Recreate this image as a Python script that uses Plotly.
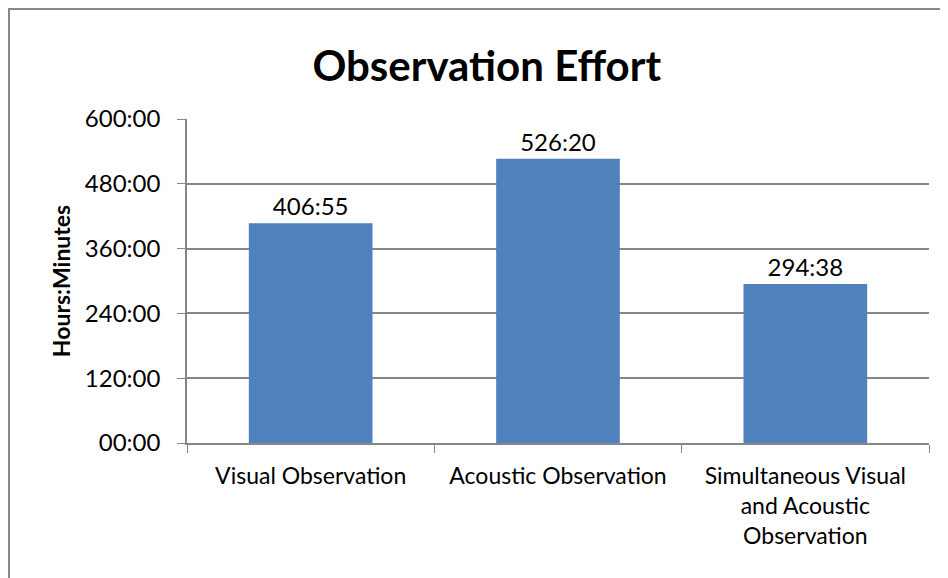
import plotly.graph_objects as go

categories = ["Visual Observation", "Acoustic Observation",
              "Simultaneous Visual<br>and Acoustic<br>Observation"]
hours = [406 + 55 / 60, 526 + 20 / 60, 294 + 38 / 60]
labels = ["406:55", "526:20", "294:38"]
tick_vals = [0, 120, 240, 360, 480, 600]
tick_text = ["00:00", "120:00", "240:00", "360:00", "480:00", "600:00"]

font = "Lato, 'Open Sans', sans-serif"

fig = go.Figure(go.Bar(
    x=categories, y=hours, text=labels,
    textposition="outside", cliponaxis=False,
    textfont=dict(size=24, color="black", family=font),
    marker=dict(color="#4F81BD", line=dict(width=0)),
))

fig.update_layout(
    width=948, height=578,
    margin=dict(l=179, r=27, t=111, b=143),
    paper_bgcolor="white", plot_bgcolor="white",
    bargap=0.5, showlegend=False,
    font=dict(family=font, color="black"),
    title=dict(text="<b>Observation Effort</b>", x=0.505, xanchor="center",
               y=0.9, yanchor="middle", font=dict(size=42, family=font)),
)

fig.update_xaxes(
    showline=True, linecolor="#868686", linewidth=1.5,
    ticks="outside", tickson="boundaries", ticklen=8, tickcolor="#868686",
    tickfont=dict(size=23), showgrid=False, ticklabelstandoff=12,
)
fig.update_yaxes(
    range=[0, 600], tickvals=tick_vals, ticktext=tick_text,
    showline=True, linecolor="#868686", linewidth=1.5,
    ticks="outside", ticklen=8, tickcolor="#868686",
    showgrid=True, gridcolor="#868686", gridwidth=1.5,
    tickfont=dict(size=24), zeroline=False, ticklabelstandoff=12,
    title=dict(text="<b>Hours:Minutes</b>", font=dict(size=23), standoff=8),
)

# outer chart border
fig.add_shape(type="rect", xref="paper", yref="paper",
              x0=-0.2399, x1=1.06, y0=-0.48, y1=1.3395,
              line=dict(color="#888888", width=2), fillcolor="rgba(0,0,0,0)")

fig.write_html("out.html")
